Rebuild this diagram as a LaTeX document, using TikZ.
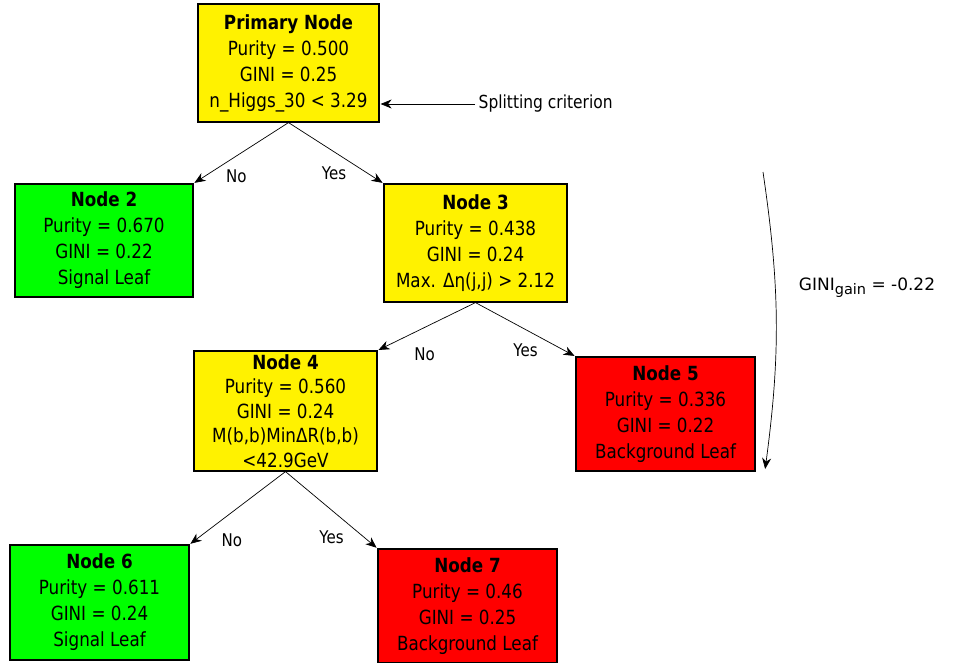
\documentclass[tikz,border=0pt]{standalone}
\usepackage{fontspec}
\setmainfont{DejaVu Sans}
\newfontfamily\boxfont[FakeStretch=0.86]{DejaVu Sans}
\usetikzlibrary{arrows.meta}

\tikzset{
  treenode/.style={draw=black, line width=1.2pt, align=center, inner sep=2pt,
    minimum width=180pt, minimum height=115pt,
    font=\boxfont\fontsize{19.5}{26}\selectfont},
  cut/.style={treenode, fill=yellow},
  sigleaf/.style={treenode, fill=green},
  bkgleaf/.style={treenode, fill=red},
  answer/.style={font=\boxfont\fontsize{17.5}{20}\selectfont, inner sep=1pt}
}

\begin{document}
\begin{tikzpicture}[>={Stealth[length=11pt,width=9pt,inset=3.5pt]},shorten >=1pt,x=1pt,y=-1pt,line width=0.7pt]
    \useasboundingbox (0,0) rectangle (956,663);

    \node[cut, minimum width=181pt, minimum height=118pt] (root) at (288.5,63)
        {\textbf{Primary Node}\\Purity = 0.500\\GINI = 0.25\\n\_Higgs\_30 < 3.29};
    \node[sigleaf, minimum width=178pt, minimum height=113pt] (n2) at (104,240.5)
        {\textbf{Node 2}\\Purity = 0.670\\GINI = 0.22\\Signal Leaf};
    \node[cut, minimum width=183pt, minimum height=118pt] (n3) at (475.5,243)
        {\textbf{Node 3}\\Purity = 0.438\\GINI = 0.24\\Max. Δη(j,j) > 2.12};
    \node[cut, minimum width=183pt, minimum height=120pt,
          font=\boxfont\fontsize{19.5}{24.5}\selectfont] (n4) at (285.5,411)
        {\textbf{Node 4}\\Purity = 0.560\\GINI = 0.24\\M(b,b)MinΔR(b,b)\\<42.9GeV};
    \node[bkgleaf, minimum width=179pt, minimum height=114pt] (n5) at (665.5,414)
        {\textbf{Node 5}\\Purity = 0.336\\GINI = 0.22\\Background Leaf};
    \node[sigleaf, minimum width=179pt] (n6) at (99.5,602.5)
        {\textbf{Node 6}\\Purity = 0.611\\GINI = 0.24\\Signal Leaf};
    \node[bkgleaf, minimum width=179pt, minimum height=114pt] (n7) at (467.5,606)
        {\textbf{Node 7}\\Purity = 0.46\\GINI = 0.25\\Background Leaf};

    \path[->] (root.south) edge node[answer, pos=0.55, below=12pt] {No} (n2.north east);
    \path[->] (root.south) edge node[answer, pos=0.48, below=14pt] {Yes} (n3.north west);
    \path[->] (n3.south) edge node[answer, pos=0.52, below=19pt] {No} (n4.north east);
    \path[->] (n3.south) edge node[answer, pos=0.5, below=13pt] {Yes} (n5.north west);
    \path[->] (n4.south) edge node[answer, pos=0.56, below=20pt] {No} (n6.north east);
    \path[->] (n4.south) edge node[answer, pos=0.5, below=19pt] {Yes} (n7.north west);

    % criterion pointer
    \node[font=\boxfont\fontsize{18}{22}\selectfont, anchor=west] (crit) at (475,104) {Splitting criterion};
    \draw[->] (crit.west) -- (crit.west -| root.east);

    % gini gain over the whole tree
    \coordinate (gtop) at (763,172);
    \coordinate (gbot) at (765,470);
    \draw[->] (gtop) to[bend left=8] (gbot);
    \node[font=\fontsize{17}{20}\selectfont] (gain) at (867,288)
        {GINI\raisebox{-0.45ex}{\fontsize{14.5}{16}\selectfont gain} = -0.22};
\end{tikzpicture}
\end{document}
